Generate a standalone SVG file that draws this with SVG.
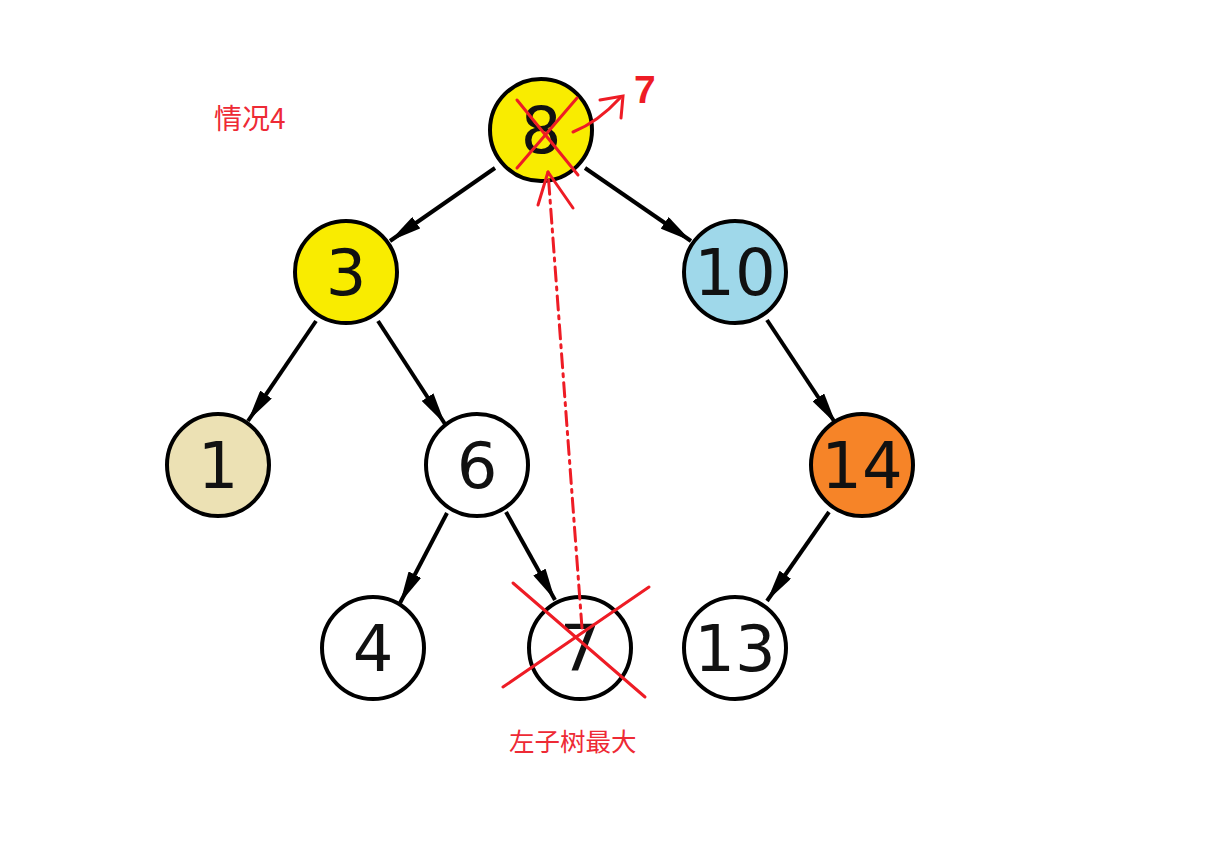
<svg xmlns="http://www.w3.org/2000/svg" width="1213" height="846" viewBox="0 0 1213 846">
<style>
.n{stroke:#000;stroke-width:4}
.t{font-family:"DejaVu Sans",sans-serif;font-size:64px;text-anchor:middle;fill:#111}
.e{stroke:#000;stroke-width:4;fill:none}
.r{stroke:#ee1c25;stroke-width:3;fill:none;stroke-linecap:round}
.rt{font-family:"Noto Sans CJK SC","Liberation Sans",sans-serif;fill:#ee2a35}
</style>
<defs>
<marker id="ah" viewBox="0 0 32 14" refX="32" refY="7" markerWidth="32" markerHeight="14" markerUnits="userSpaceOnUse" orient="auto">
<path d="M0,0 L32,7 L0,14 Z" fill="#000"/>
</marker>
</defs>
<rect width="1213" height="846" fill="#fff"/>
<g id="connectors">
<line class="e" x1="495" y1="168" x2="390" y2="241" marker-end="url(#ah)"/>
<line class="e" x1="585" y1="168" x2="691" y2="241" marker-end="url(#ah)"/>
<line class="e" x1="316" y1="321" x2="248" y2="421" marker-end="url(#ah)"/>
<line class="e" x1="378" y1="321" x2="445" y2="424" marker-end="url(#ah)"/>
<line class="e" x1="767" y1="320" x2="836" y2="424" marker-end="url(#ah)"/>
<line class="e" x1="447" y1="513" x2="400" y2="603" marker-end="url(#ah)"/>
<line class="e" x1="506" y1="512" x2="555" y2="600" marker-end="url(#ah)"/>
<line class="e" x1="829" y1="512" x2="767" y2="601" marker-end="url(#ah)"/>
</g>
<g id="node8"><circle class="n" cx="541" cy="130" r="51" fill="#f9ec00"/><text class="t" x="541" y="153">8</text></g>
<g id="node3"><circle class="n" cx="346" cy="272" r="51" fill="#f9ec00"/><text class="t" x="346" y="295">3</text></g>
<g id="node10"><circle class="n" cx="735" cy="272" r="51" fill="#9fd8ea"/><text class="t" x="735" y="295">10</text></g>
<g id="node1"><circle class="n" cx="218" cy="465" r="51" fill="#ece1b4"/><text class="t" x="218" y="488">1</text></g>
<g id="node6"><circle class="n" cx="477" cy="465" r="51" fill="#fff"/><text class="t" x="477" y="488">6</text></g>
<g id="node14"><circle class="n" cx="862" cy="465" r="51" fill="#f68428"/><text class="t" x="862" y="488">14</text></g>
<g id="node4"><circle class="n" cx="373" cy="648" r="51" fill="#fff"/><text class="t" x="373" y="671">4</text></g>
<g id="node7"><circle class="n" cx="580" cy="648" r="51" fill="#fff"/><text class="t" x="580" y="671">7</text></g>
<g id="node13"><circle class="n" cx="735" cy="648" r="51" fill="#fff"/><text class="t" x="735" y="671">13</text></g>
<g id="annotations">
<line class="r" x1="517" y1="100" x2="578" y2="175" stroke-width="4"/>
<line class="r" x1="577" y1="98" x2="517" y2="168" stroke-width="4"/>
<path class="r" d="M573,132 Q598,122 620,98"/>
<path class="r" d="M600,100 L623,96 L621,118"/>
<text x="634" y="103" font-family="Liberation Sans, sans-serif" font-size="39" font-weight="bold" fill="#ee1c25">7</text>
<path class="r" d="M582,628 L548,172" stroke-dasharray="14,6,3,6"/>
<path class="r" d="M548,172 L538,205 M548,172 L573,208"/>
<line class="r" x1="513" y1="583" x2="645" y2="697"/>
<line class="r" x1="649" y1="587" x2="503" y2="687"/>
<text class="rt" x="214" y="129" font-size="28">情况4</text>
<text class="rt" x="509" y="751" font-size="25.5">左子树最大</text>
</g>
</svg>
